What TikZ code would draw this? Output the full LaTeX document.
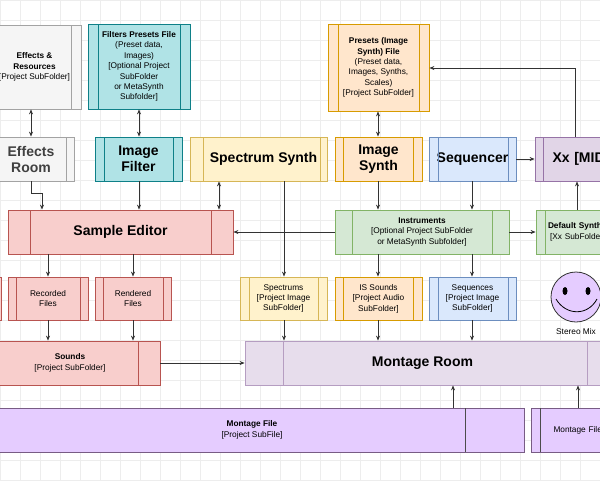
\documentclass[tikz,border=0pt]{standalone}
\usepackage{fontspec}
\setmainfont{Liberation Sans}
\usetikzlibrary{arrows.meta}
\definecolor{grF}{HTML}{F5F5F5}\definecolor{grS}{HTML}{666666}
\definecolor{tlF}{HTML}{B0E3E6}\definecolor{tlS}{HTML}{0E8088}
\definecolor{ylF}{HTML}{FFF2CC}\definecolor{ylS}{HTML}{D6B656}
\definecolor{orF}{HTML}{FFE6CC}\definecolor{orS}{HTML}{D79B00}
\definecolor{blF}{HTML}{DAE8FC}\definecolor{blS}{HTML}{6C8EBF}
\definecolor{puF}{HTML}{E1D5E7}\definecolor{puS}{HTML}{9673A6}
\definecolor{rdF}{HTML}{F8CECC}\definecolor{rdS}{HTML}{B85450}
\definecolor{gnF}{HTML}{D5E8D4}\definecolor{gnS}{HTML}{82B366}
\definecolor{mfF}{HTML}{E5CCFF}
\newcommand\bx[7]{\node[#2,minimum width={(#5-#3)*1pt},minimum height={(#6-#4)*1pt}] (#1) at ({(#3+#5)/2},{(#4+#6)/2}) {#7};}
\newcommand\vl[4]{\draw[#1] (#2,#3)--(#2,#4);}
\tikzset{
 x=1pt,y=-1pt,
 b/.style={draw,inner sep=1pt,align=center,line width=0.8pt},
 big/.style={font=\fontsize{14}{16}\selectfont\bfseries},
 sm/.style={font=\fontsize{8.3}{10.4}\selectfont},
 gr/.style={b,fill=grF,draw=grS!60},
 tl/.style={b,fill=tlF,draw=tlS},
 yl/.style={b,fill=ylF,draw=ylS},
 or/.style={b,fill=orF,draw=orS},
 bl/.style={b,fill=blF,draw=blS},
 pu/.style={b,fill=puF,draw=puS},
 rd/.style={b,fill=rdF,draw=rdS},
 gn/.style={b,fill=gnF,draw=gnS},
 mf/.style={b,fill=mfF,draw=puS!80!black},
 ar/.style={-{Stealth[length=5pt,width=4pt]},line width=0.7pt,black!80},
 dar/.style={{Stealth[length=5pt,width=4pt]}-{Stealth[length=5pt,width=4pt]},line width=0.7pt,black!80},
}
\begin{document}
\begin{tikzpicture}
\useasboundingbox (0,0) rectangle (600,480);
\clip (0,0) rectangle (600,480);
\fill[white] (0,0) rectangle (600,480);
\foreach \g in {0,20,...,600}{\draw[black!7,line width=0.4pt] (\g,0)--(\g,480);}
\foreach \g in {0,20,...,480}{\draw[black!7,line width=0.4pt] (0,\g)--(600,\g);}
% top row
\bx{er}{gr,sm}{-12}{25}{81}{109}{\textbf{Effects \&}\\\textbf{Resources}\\{}[Project SubFolder]}
\vl{grS!60,line width=0.8pt}{71}{25}{109}
\bx{fp}{tl,sm}{88}{24}{190}{109}{\textbf{Filters Presets File}\\(Preset data,\\Images)\\{}[Optional Project\\SubFolder\\or MetaSynth\\Subfolder]}
\vl{tlS,line width=0.8pt}{98}{24}{109}\vl{tlS,line width=0.8pt}{180}{24}{109}
\bx{pf}{or,sm}{328}{24}{429}{111}{\textbf{Presets (Image}\\\textbf{Synth) File}\\(Preset data,\\Images, Synths,\\Scales)\\{}[Project SubFolder]}
\vl{orS,line width=0.8pt}{338}{24}{111}\vl{orS,line width=0.8pt}{419}{24}{111}
% second row
\bx{eroom}{gr,big,text=black!75}{-12}{137}{74}{181}{Effects\\Room}
\vl{grS!60,line width=0.8pt}{66}{137}{181}
\bx{if}{tl,big}{95}{137}{182}{181}{Image\\Filter}
\vl{tlS,line width=0.8pt}{104}{137}{181}\vl{tlS,line width=0.8pt}{173}{137}{181}
\bx{ss}{yl,big}{190}{137}{327}{181}{\hspace*{10pt}Spectrum Synth}
\vl{ylS,line width=0.8pt}{203}{137}{181}\vl{ylS,line width=0.8pt}{320}{137}{181}
\bx{is}{or,big}{335}{137}{422}{181}{Image\\Synth}
\vl{orS,line width=0.8pt}{343}{137}{181}\vl{orS,line width=0.8pt}{413}{137}{181}
\bx{sq}{bl,big}{429}{137}{516}{181}{Sequencer}
\vl{blS,line width=0.8pt}{438}{137}{181}\vl{blS,line width=0.8pt}{508}{137}{181}
\bx{xx}{pu,big,text width=100pt,align=left}{535}{137}{640}{181}{\hspace*{15pt}Xx [MIDI]}
\vl{puS,line width=0.8pt}{543}{137}{181}
% third row
\bx{se}{rd,big}{8}{210}{233}{254}{Sample Editor}
\vl{rdS,line width=0.8pt}{30}{210}{254}\vl{rdS,line width=0.8pt}{211}{210}{254}
\bx{in}{gn,sm}{335}{210}{509}{254}{\textbf{Instruments}\\{}[Optional Project SubFolder\\or MetaSynth Subfolder]}
\vl{gnS,line width=0.8pt}{352}{210}{254}\vl{gnS,line width=0.8pt}{492}{210}{254}
\bx{ds}{gn,sm,text width=100pt,align=left}{536}{210}{640}{254}{\hspace*{10pt}\textbf{Default Synth}\\\hspace*{12pt}[Xx SubFolder]}
\vl{gnS,line width=0.8pt}{545}{210}{254}
% fourth row
\bx{px}{rd}{-20}{277}{1}{320}{}
\bx{rf}{rd,sm}{8}{277}{88}{320}{Recorded\\Files}
\vl{rdS,line width=0.8pt}{16}{277}{320}\vl{rdS,line width=0.8pt}{80}{277}{320}
\bx{rn}{rd,sm}{95}{277}{171}{320}{Rendered\\Files}
\vl{rdS,line width=0.8pt}{103}{277}{320}\vl{rdS,line width=0.8pt}{163}{277}{320}
\bx{sp}{yl,sm}{240}{277}{327}{320}{Spectrums\\{}[Project Image\\SubFolder]}
\vl{ylS,line width=0.8pt}{249}{277}{320}\vl{ylS,line width=0.8pt}{318}{277}{320}
\bx{iss}{or,sm}{335}{277}{422}{320}{IS Sounds\\{}[Project Audio\\SubFolder]}
\vl{orS,line width=0.8pt}{343}{277}{320}\vl{orS,line width=0.8pt}{413}{277}{320}
\bx{sqs}{bl,sm}{429}{277}{516}{320}{Sequences\\{}[Project Image\\SubFolder]}
\vl{blS,line width=0.8pt}{438}{277}{320}\vl{blS,line width=0.8pt}{508}{277}{320}
% smiley
\node[circle,draw=black!80,fill=mfF,minimum size=50pt,line width=0.8pt] (sm) at (576,297) {};
\fill[black] (565,291) ellipse (2.5pt and 4pt);
\fill[black] (588,291) ellipse (2.5pt and 4pt);
\draw[line width=0.8pt] (556,299) .. controls (566,316) and (588,316) .. (597,299);
\node[sm,anchor=north] (smt) at (576,325) {Stereo Mix};
% fifth row
\bx{so}{rd,sm}{-20}{341}{160}{385}{\textbf{Sounds}\\{}[Project SubFolder]}
\vl{rdS,line width=0.8pt}{138}{341}{385}
\bx{mr}{pu,big,fill=puF!80,draw=puS!70}{245}{341}{640}{385}{\hspace*{-40pt}Montage Room}
\vl{puS!70,line width=0.8pt}{283}{341}{385}\vl{puS!70,line width=0.8pt}{587}{341}{385}
% bottom
\bx{mf}{mf,sm}{-20}{408}{524}{452}{\textbf{Montage File}\\{}[Project SubFile]}
\vl{black!70,line width=0.8pt}{465}{408}{452}
\bx{mf2}{mf,sm,text width=100pt,align=left}{531}{408}{640}{452}{\hspace*{18pt}Montage File}
\vl{black!70,line width=0.8pt}{540}{408}{452}
% arrows
\draw[dar] (er.south -| 31,0) -- (eroom.north -| 31,0);
\draw[dar] (fp.south -| 139,0) -- (if.north -| 139,0);
\draw[ar] (eroom.south -| 31,0) -- (31,193) -- (42,193) -- (se.north -| 42,0);
\draw[ar] (if.south -| 139,0) -- (se.north -| 139,0);
\draw[dar] (ss.south -| 219,0) -- (se.north -| 219,0);
\draw[ar] (ss.south -| 284,0) -- (sp.north -| 284,0);
\draw[ar] (in.west) -- (se.east);
\draw[dar] (pf.south -| 378,0) -- (is.north -| 378,0);
\draw[ar] (is.south -| 378,0) -- (in.north -| 378,0);
\draw[ar] (sq.south -| 472,0) -- (in.north -| 472,0);
\draw[ar] (sq.east) -- (xx.west |- sq.east);
\draw[ar] (xx.north -| 575,0) -- (575,68) -- (pf.east |- 0,68);
\draw[ar] (ds.north -| 577,0) -- (xx.south -| 577,0);
\draw[ar] (in.east) -- (ds.west |- in.east);
\draw[ar] (in.south -| 378,0) -- (iss.north -| 378,0);
\draw[ar] (in.south -| 472,0) -- (sqs.north -| 472,0);
\draw[ar] (se.south -| 48,0) -- (rf.north -| 48,0);
\draw[ar] (se.south -| 133,0) -- (rn.north -| 133,0);
\draw[ar] (rf.south -| 48,0) -- (so.north -| 48,0);
\draw[ar] (rn.south -| 133,0) -- (so.north -| 133,0);
\draw[ar] (sp.south -| 284,0) -- (mr.north -| 284,0);
\draw[ar] (iss.south -| 378,0) -- (mr.north -| 378,0);
\draw[ar] (sqs.south -| 472,0) -- (mr.north -| 472,0);
\draw[ar] (so.east |- 0,363) -- (mr.west |- 0,363);
\draw[ar] (mf.north -| 453,0) -- (mr.south -| 453,0);
\draw[ar] (mf2.north -| 578,0) -- (mr.south -| 578,0);
\end{tikzpicture}
\end{document}
